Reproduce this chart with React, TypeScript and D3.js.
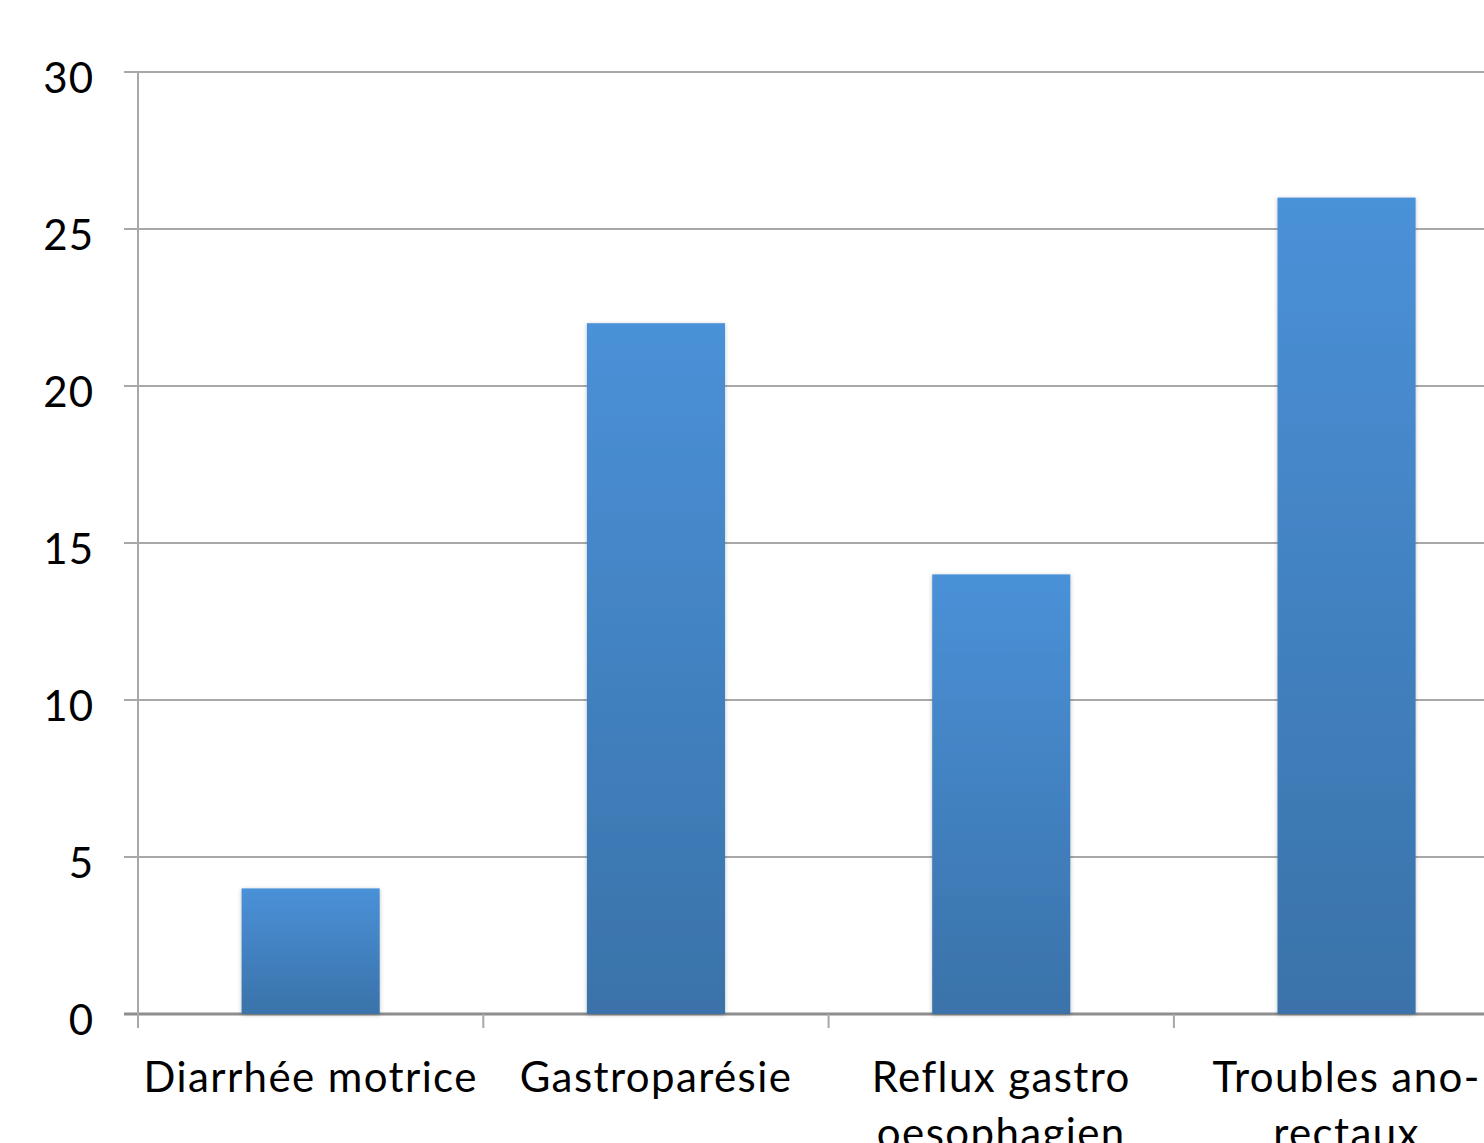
import React from 'react'
import * as d3 from "d3";

const categories = ["Diarrhée motrice", "Gastroparésie", "Reflux gastro oesophagien", "Troubles ano-rectaux"]
const categoryLines = [["Diarrhée motrice"], ["Gastroparésie"], ["Reflux gastro", "oesophagien"], ["Troubles ano-", "rectaux"]]
const values = [4, 22, 14, 26]
const yTicks = [0, 5, 10, 15, 20, 25, 30]

const width = 1484
const height = 1143
const margin = { top: 72, left: 138, bottom: 129 }
const step = 345.3

export default function App() {
  const xScale = d3.scaleBand<string>()
    .domain(categories)
    .range([margin.left, margin.left + step * categories.length])
    .paddingInner(0.6)
    .paddingOuter(0.3)

  const yScale = d3.scaleLinear()
    .domain([0, 30])
    .range([height - margin.bottom, margin.top])

  const font = "Lato, 'Liberation Sans', sans-serif"
  const y0 = yScale(0)

  return (
    <svg width={width} height={height} style={{ position: "fixed", left: 0, top: 0, background: "#fff" }}>
      <defs>
        <linearGradient id="barFill" x1="0" y1="0" x2="0" y2="1">
          <stop offset="0%" stopColor="#4a91d8" />
          <stop offset="100%" stopColor="#3a72a9" />
        </linearGradient>
        <filter id="shadow" x="-10%" y="-10%" width="120%" height="120%">
          <feDropShadow dx="0" dy="1" stdDeviation="2" floodColor="#000" floodOpacity="0.25" />
        </filter>
      </defs>

      {/* gridlines + y ticks */}
      {yTicks.map(t => (
        <g key={t}>
          <line x1={margin.left - 14} x2={width} y1={yScale(t)} y2={yScale(t)}
            stroke={t === 0 ? "#8e8e8e" : "#a8a8a8"} strokeWidth={t === 0 ? 3 : 2} />
          <text x={94} y={yScale(t)} dy="0.5em" textAnchor="end" fontFamily={font} fontSize={42}
            letterSpacing={1} fill="#000">{t}</text>
        </g>
      ))}

      {/* y axis */}
      <line x1={margin.left} x2={margin.left} y1={margin.top} y2={y0 + 14} stroke="#a8a8a8" strokeWidth={2} />

      {/* x ticks */}
      {categories.map((c, i) => {
        const x = margin.left + step * i
        return <line key={c} x1={x} x2={x} y1={y0} y2={y0 + 14} stroke="#a8a8a8" strokeWidth={2} />
      })}

      {/* bars */}
      {categories.map((c, i) => (
        <rect key={c} x={xScale(c)} y={yScale(values[i])} width={xScale.bandwidth()} height={y0 - yScale(values[i])}
          fill="url(#barFill)" filter="url(#shadow)" />
      ))}

      {/* category labels */}
      {categories.map((c, i) => {
        const cx = (xScale(c) as number) + xScale.bandwidth() / 2
        return (
          <text key={c} x={cx} y={1092} textAnchor="middle" fontFamily={font} fontSize={42}
            letterSpacing={1.4} fill="#000">
            {categoryLines[i].map((line, j) => (
              <tspan key={j} x={cx} dy={j === 0 ? 0 : 56}>{line}</tspan>
            ))}
          </text>
        )
      })}
    </svg>
  )
}
